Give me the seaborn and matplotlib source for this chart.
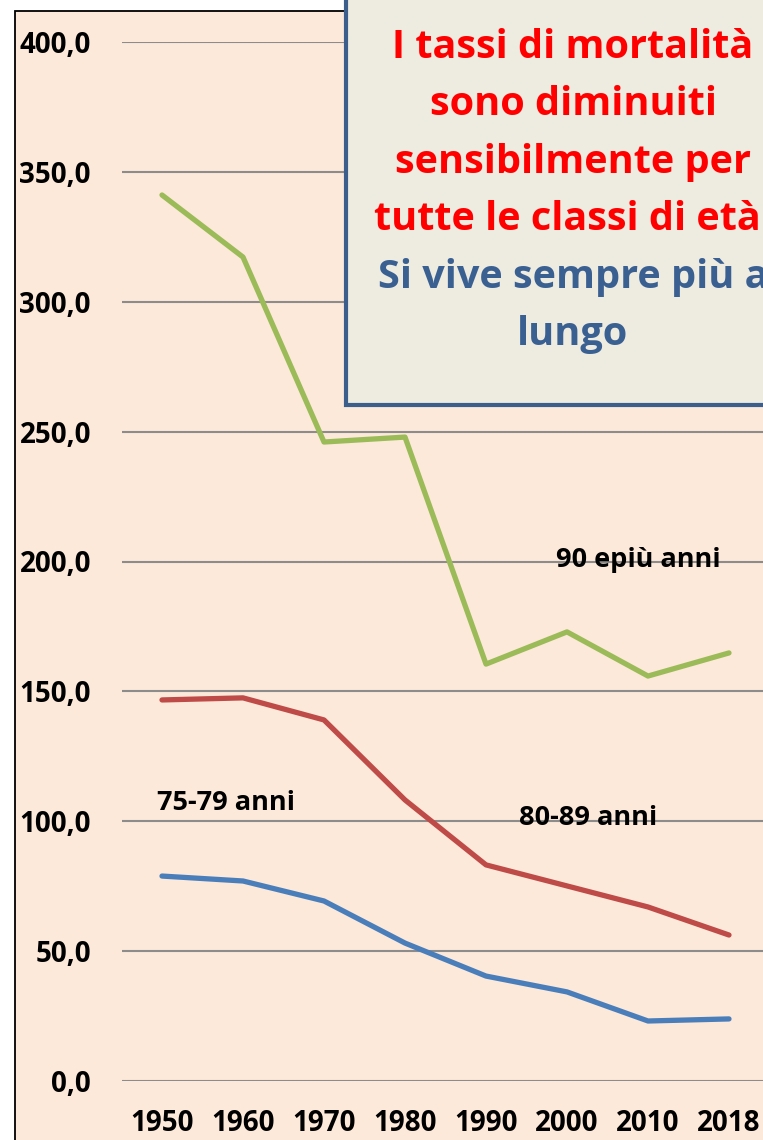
import matplotlib
matplotlib.use("Agg")
import matplotlib.pyplot as plt
from matplotlib.patches import Rectangle
import seaborn as sns
import pandas as pd

# dati (tassi di mortalità per classe di età)
anni = ["1950", "1960", "1970", "1980", "1990", "2000", "2010", "2018"]
classe_75_79 = [78.9, 77.0, 69.3, 53.1, 40.4, 34.3, 23.1, 23.9]
classe_80_89 = [146.7, 147.5, 139.0, 108.2, 83.2, 75.1, 67.0, 56.2]
classe_90_piu = [341.1, 317.2, 246.0, 247.9, 160.5, 172.9, 155.9, 164.8]
etichette_y = ["0,0", "50,0", "100,0", "150,0", "200,0", "250,0", "300,0", "350,0", "400,0"]

serie = {"75-79 anni": classe_75_79, "80-89 anni": classe_80_89, "90 epiù anni": classe_90_piu}
colori = {"75-79 anni": "#4A7EBB", "80-89 anni": "#BE4B48", "90 epiù anni": "#9BBB59"}

righe = []
for nome, valori in serie.items():
    for i, v in enumerate(valori):
        righe.append({"pos": i, "anno": anni[i], "tasso": v, "classe": nome})
df = pd.DataFrame(righe)

sns.set_theme(style="white")
plt.rcParams["font.family"] = ["Open Sans", "DejaVu Sans"]
plt.rcParams["text.color"] = "black"

W, H = 763, 1140
fig = plt.figure(figsize=(W / 100, H / 100), dpi=100)
fig.patch.set_facecolor("white")

# sfondo dell'area grafico con bordo nero
fig.patches.append(Rectangle((15 / W, -0.05), 1.1, 1 - 11 / H + 0.05,
                             transform=fig.transFigure, facecolor="#FDE9D9",
                             edgecolor="black", linewidth=1.3, zorder=-2))

ax = fig.add_axes([121.5 / W, 59 / H, 648 / W, 1039 / H])
ax.set_facecolor("none")

sns.lineplot(data=df, x="pos", y="tasso", hue="classe", palette=colori,
             linewidth=3.8, ax=ax, legend=False, sort=False)
for l in ax.lines:
    l.set_solid_capstyle("round")
    l.set_solid_joinstyle("round")

ax.set_xlim(-0.5, len(anni) - 0.5)
ax.set_ylim(0, 400)
ax.set_xticks(range(len(anni)), labels=anni)
ax.set_yticks(range(0, 401, 50), labels=etichette_y)
ax.tick_params(axis="both", length=0, labelsize=20, labelcolor="black")
ax.tick_params(axis="y", pad=22)
ax.tick_params(axis="x", pad=20)
for t in ax.get_xticklabels() + ax.get_yticklabels():
    t.set_fontweight("bold")
ax.set_xlabel("")
ax.set_ylabel("")
ax.yaxis.grid(True, color="#8C8C8C", linewidth=1.5)
ax.xaxis.grid(False)
ax.set_axisbelow(True)
sns.despine(ax=ax, left=True, bottom=True)

# etichette delle serie
ax.text(0.79, 107, "75-79 anni", ha="center", va="center", fontsize=19.5,
        fontweight="bold", color="black")
ax.text(5.26, 101.3, "80-89 anni", ha="center", va="center", fontsize=19.5,
        fontweight="bold", color="black")
ax.text(5.88, 200.6, "90 epiù anni", ha="center", va="center", fontsize=19.5,
        fontweight="bold", color="black")

# riquadro di commento
fig.patches.append(Rectangle((346 / W, 1 - 405 / H), 0.6, 0.5,
                             transform=fig.transFigure, facecolor="#EEEBE0",
                             edgecolor="#3B5E8C", linewidth=3, zorder=5))
fig.text(573 / W, 1 - 133.5 / H,
         "I tassi di mortalità\nsono diminuiti\nsensibilmente per\ntutte le classi di età.",
         ha="center", va="center", color="#FF0000", fontsize=28.5, fontweight="bold",
         linespacing=1.62, zorder=6)
fig.text(573 / W, 1 - 306 / H, "Si vive sempre più a\nlungo",
         ha="center", va="center", color="#3A6092", fontsize=28.5, fontweight="bold",
         linespacing=1.62, zorder=6)

fig.savefig("out.png", dpi=100)
